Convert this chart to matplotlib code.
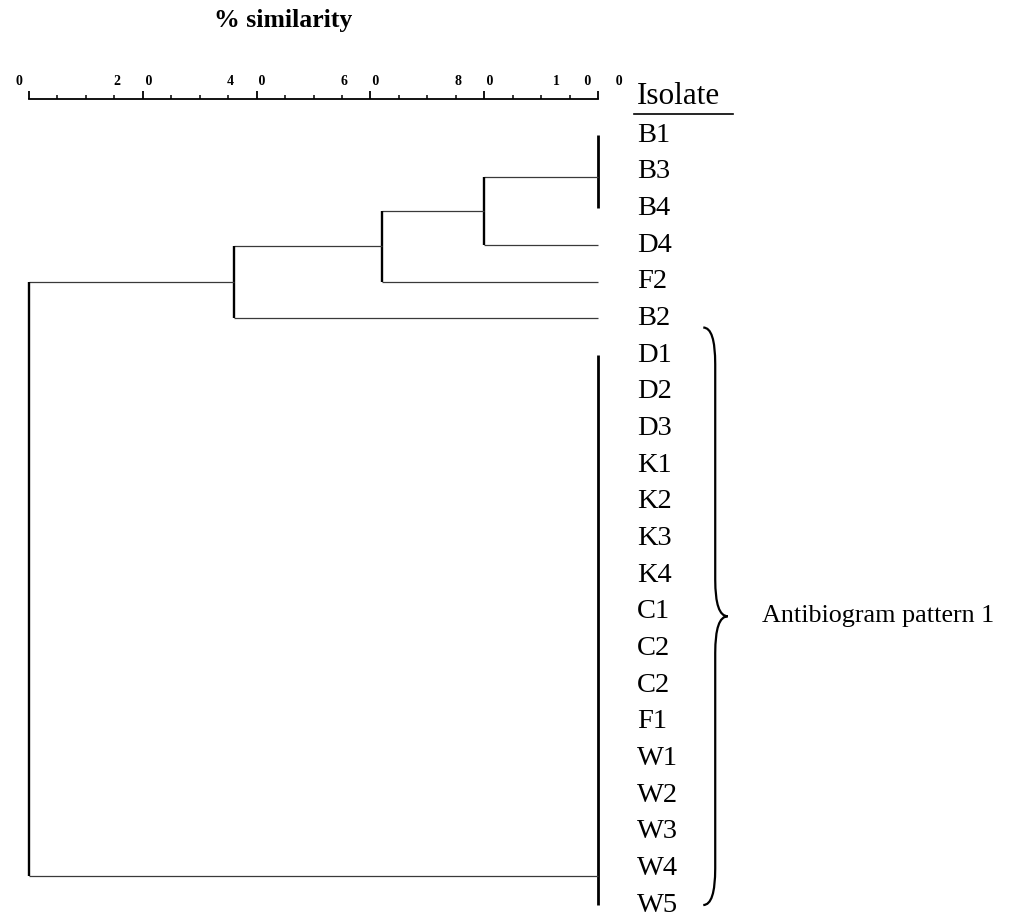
"""
Dendrogram of isolates by % similarity (antibiogram).
"""
import matplotlib
matplotlib.use('Agg')
import matplotlib.pyplot as plt
import matplotlib.transforms as mtransforms
from matplotlib.path import Path
from matplotlib.patches import PathPatch

plt.rcParams['font.family'] = ['Liberation Serif', 'DejaVu Serif']

# isolates, top to bottom
isolates = ['B1', 'B3', 'B4', 'D4', 'F2', 'B2', 'D1', 'D2', 'D3', 'K1', 'K2',
            'K3', 'K4', 'C1', 'C2', 'C2', 'F1', 'W1', 'W2', 'W3', 'W4', 'W5']
# identical groups (100 % similarity): first row, last row, row where branch leaves
group_b = (0, 2, 1.15)
group_p = (6, 21, 20.2)
# successive merges: (similarity %, row of the single isolate joined, or None = pattern 1 group)
merge_sim = [80, 62, 36, 0]
merge_with = [3, 4, 5, None]
pattern_label = 'Antibiogram pattern 1'

tick_major = [0, 20, 40, 60, 80, 100]
tick_labels = ['0', '2       0', '4       0', '6       0', '8       0',
               '1       0       0']
tick_minor = [v for v in range(0, 101, 5) if v % 20]

fig = plt.figure(figsize=(10.16, 9.21), dpi=100)
ax = fig.add_axes([0, 0, 1, 1])
ax.set_xlim(-5.097, 173.46)
ax.set_ylim(21.435, -3.682)

hcol = '#3a3a3a'
vw = 1.7
hw = 0.9

# identical groups
for g in (group_b, group_p):
    ax.vlines(100, g[0], g[1], color='k', lw=2.0)

# merges
cur_row = group_b[2]
cur_x = 100
for sim, other in zip(merge_sim, merge_with):
    if other is None:
        o_row, o_x = group_p[2], 100
    else:
        o_row, o_x = other, 100
    ax.hlines(cur_row, sim, cur_x, color=hcol, lw=hw)
    ax.hlines(o_row, sim, o_x, color=hcol, lw=hw)
    ax.vlines(sim, cur_row, o_row, color='k', lw=vw)
    cur_row = (cur_row + o_row) / 2
    cur_x = sim

# leaf labels
for i, name in enumerate(isolates):
    ax.text(106.9, i, name, fontsize=20.5, ha='left', va='center')

ax.text(106.9, -1.05, 'Isolate', fontsize=22.5, ha='left', va='center')
ax.plot([106.3, 123.7], [-0.57, -0.57], color='k', lw=1.2)

# brace for pattern 1
top = group_p[0] - 0.75
bot = group_p[1]
mid = (top + bot) / 2
xh, xs, xt = 118.5, 120.6, 122.8
verts = [(xh, top), (xs, top), (xs, top + 1.0),
         (xs, mid - 1.0), (xs, mid), (xt, mid),
         (xs, mid), (xs, mid + 1.0),
         (xs, bot - 1.0), (xs, bot), (xh, bot)]
codes = [Path.MOVETO, Path.CURVE3, Path.CURVE3,
         Path.LINETO, Path.CURVE3, Path.CURVE3,
         Path.CURVE3, Path.CURVE3,
         Path.LINETO, Path.CURVE3, Path.CURVE3]
ax.add_patch(PathPatch(Path(verts, codes), fill=False, lw=1.6, color='k'))
ax.text(128.8, mid, pattern_label, fontsize=18.8, ha='left', va='center')

# similarity scale on top
for s in ['left', 'right', 'bottom']:
    ax.spines[s].set_visible(False)
ax.spines['top'].set_position(('data', -0.98))
ax.spines['top'].set_bounds(0, 100)
ax.spines['top'].set_linewidth(1.3)
ax.xaxis.set_ticks_position('top')
ax.set_xticks(tick_major)
ax.set_xticks(tick_minor, minor=True)
ax.set_xticklabels(tick_labels, fontsize=10, fontweight='bold')
ax.tick_params(axis='x', which='major', length=6, width=1.3, pad=2, direction='out')
ax.tick_params(axis='x', which='minor', length=3, width=1.1, direction='out')
ax.set_yticks([])
shift = mtransforms.ScaledTranslation(-0.10, 0, fig.dpi_scale_trans)
for lab in ax.get_xticklabels():
    lab.set_transform(lab.get_transform() + shift)

fig.text(283 / 1016, 1 - 21 / 921, '% similarity', fontsize=18.5,
         fontweight='bold', ha='center', va='center')

plt.savefig('out.png', dpi=100)
